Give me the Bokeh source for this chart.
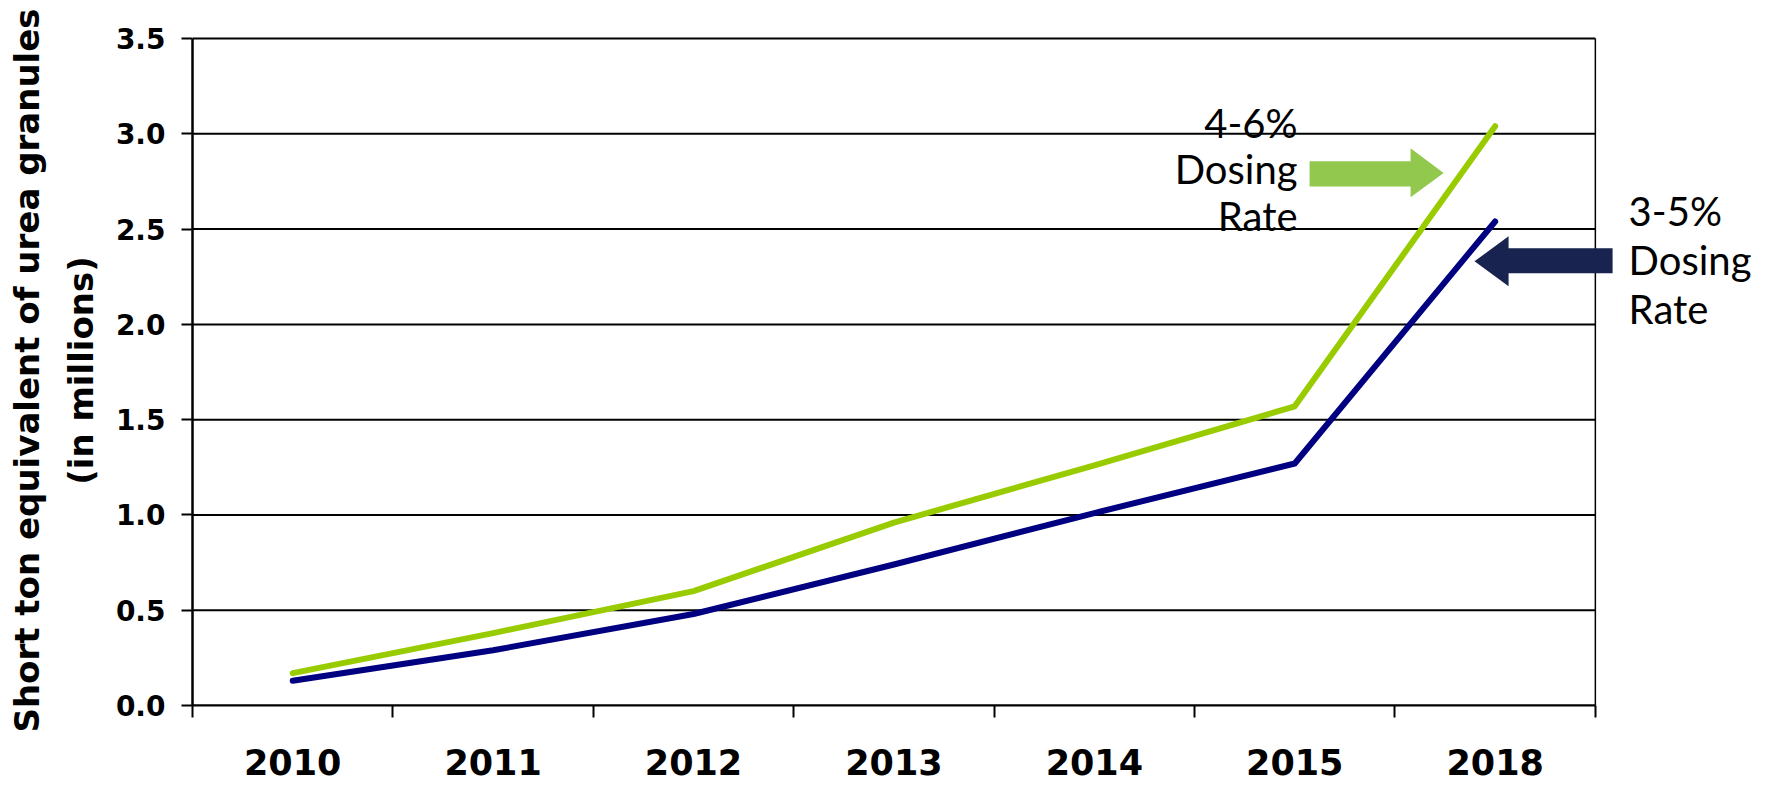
from bokeh.plotting import figure
from bokeh.models import Range1d, FixedTicker, PrintfTickFormatter, PolyAnnotation, Label
from bokeh.embed import file_html
from bokeh.resources import INLINE

# ---- data ----
years = ["2010", "2011", "2012", "2013", "2014", "2015", "2018"]
rate_4_6 = [0.17, 0.38, 0.60, 0.96, 1.26, 1.57, 3.04]
rate_3_5 = [0.13, 0.29, 0.48, 0.74, 1.01, 1.27, 2.54]
y_ticks = [0.0, 0.5, 1.0, 1.5, 2.0, 2.5, 3.0, 3.5]
y_title = "Short ton equivalent of urea granules\n(in millions)"
note_4_6 = ["4-6%", "Dosing", "Rate"]
note_3_5 = ["3-5%", "Dosing", "Rate"]

GREEN = "#99CC00"
NAVY = "#000080"
GREEN_ARROW = "#92C84E"
NAVY_ARROW = "#18234F"

n = len(years)
xc = [i + 0.5 for i in range(n)]
y_top = y_ticks[-1]

# frame extends to the right edge so the notes outside the chart box are visible
p = figure(width=1766, height=785, output_backend="svg", toolbar_location=None,
           x_range=Range1d(0, 7.854), y_range=Range1d(0, 3.516),
           min_border_left=192, min_border_right=0, min_border_top=35, min_border_bottom=80)
p.background_fill_color = "white"
p.border_fill_color = "white"
p.outline_line_color = None

# x axis: labels at centers, tick marks at boundaries
xax = p.xaxis[0]
xax.bounds = (0, n)
xax.ticker = FixedTicker(ticks=xc, minor_ticks=list(range(n + 1)))
xax.major_label_overrides = {x: y for x, y in zip(xc, years)}
xax.major_tick_out = 0
xax.major_tick_in = 0
xax.minor_tick_out = 12
xax.minor_tick_in = 0
xax.minor_tick_line_color = "black"
xax.minor_tick_line_width = 2
xax.axis_line_color = "black"
xax.axis_line_width = 2
xax.major_label_text_font = "DejaVu Sans"
xax.major_label_text_font_style = "bold"
xax.major_label_text_font_size = "35px"
xax.major_label_text_color = "black"
xax.major_label_standoff = 31

yax = p.yaxis[0]
yax.bounds = (0, y_top)
yax.ticker = FixedTicker(ticks=y_ticks)
yax.formatter = PrintfTickFormatter(format="%.1f")
yax.major_tick_out = 11
yax.major_tick_in = 0
yax.minor_tick_out = 0
yax.minor_tick_in = 0
yax.major_tick_line_color = "black"
yax.major_tick_line_width = 2
yax.axis_line_color = "black"
yax.axis_line_width = 2.5
yax.major_label_text_font = "DejaVu Sans"
yax.major_label_text_font_style = "bold"
yax.major_label_text_font_size = "28px"
yax.major_label_text_color = "black"
yax.major_label_standoff = 16
yax.axis_label = y_title
yax.axis_label_text_font = "DejaVu Sans"
yax.axis_label_text_font_style = "bold"
yax.axis_label_text_font_size = "34px"
yax.axis_label_text_color = "black"
yax.axis_label_standoff = 12
yax.axis_label_text_line_height = 1.35

p.xgrid.visible = False
p.ygrid.visible = False

# horizontal gridlines limited to the chart box, plus its right border
p.segment(x0=[0] * len(y_ticks), y0=y_ticks, x1=[n] * len(y_ticks), y1=y_ticks,
          line_color="black", line_width=2)
p.segment(x0=[n], y0=[0], x1=[n], y1=[y_top], line_color="black", line_width=1.5)

p.line(xc, rate_4_6, line_color=GREEN, line_width=6, line_cap="round", line_join="round")
p.line(xc, rate_3_5, line_color=NAVY, line_width=6, line_cap="round", line_join="round")

# arrows (annotation shapes, data units)
p.add_layout(PolyAnnotation(
    xs=[5.574, 6.078, 6.078, 6.243, 6.078, 6.078, 5.574],
    ys=[2.856, 2.856, 2.924, 2.795, 2.667, 2.724, 2.724],
    fill_color=GREEN_ARROW, fill_alpha=1, line_color=None, level="overlay"))
p.add_layout(PolyAnnotation(
    xs=[7.086, 6.567, 6.567, 6.397, 6.567, 6.567, 7.086],
    ys=[2.399, 2.399, 2.462, 2.331, 2.200, 2.268, 2.268],
    fill_color=NAVY_ARROW, fill_alpha=1, line_color=None, level="overlay"))

green_y = [3.055, 2.814, 2.567]
for t, yy in zip(note_4_6, green_y):
    p.add_layout(Label(x=5.514, y=yy, text=t, text_align="right", text_baseline="alphabetic",
                       text_font="Lato", text_font_size="40px", text_color="black"))
navy_y = [2.593, 2.336, 2.079]
for t, yy in zip(note_3_5, navy_y):
    p.add_layout(Label(x=7.166, y=yy, text=t, text_align="left", text_baseline="alphabetic",
                       text_font="Lato", text_font_size="40px", text_color="black"))

open("out.html", "w").write(file_html(p, INLINE))
